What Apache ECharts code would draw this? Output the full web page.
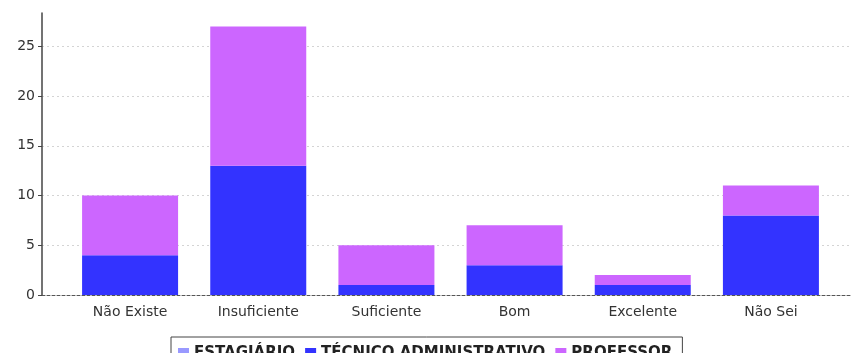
<!DOCTYPE html>
<html lang="pt">
  <head>
    <meta charset="UTF-8" />
    <title>avaliacao</title>
    <script src="https://cdn.jsdelivr.net/npm/echarts@6/dist/echarts.min.js"></script>
    <style>
      html, body { margin: 0; padding: 0; background: #fff; }
      #chart { width: 852px; height: 353px; }
    </style>
  </head>
  <body>
    <div id="chart"></div>
    <script>
      var categorias = ['Não Existe', 'Insuficiente', 'Suficiente', 'Bom', 'Excelente', 'Não Sei'];
      var estagiario = [0, 0, 0, 0, 0, 0];
      var tecnico = [4, 13, 1, 3, 1, 8];
      var professor = [6, 14, 4, 4, 1, 3];
      var yTicks = [0, 5, 10, 15, 20, 25];

      var chartColor = ['#9999ff', '#3333ff', '#cc66ff'];
      var fontFamily = 'DejaVu Sans';
      var yMax = 28.35;

      var chart = echarts.init(document.getElementById('chart'));

      var chartOption = {
        animation: false,
        color: chartColor,
        // grid 0: moldura (eixo y, linhas de grade, linha base)
        // grid 1: barras com margens de categoria
        grid: [
          { left: 42, right: 2, top: 13, bottom: 58, containLabel: false, outerBoundsMode: 'none' },
          { left: 66, right: 17, top: 13, bottom: 58, containLabel: false, outerBoundsMode: 'none' }
        ],
        legend: {
          left: 171,
          top: 337,
          icon: 'rect',
          itemWidth: 11,
          itemHeight: 11,
          itemGap: 10,
          padding: [9, 10, 8, 7],
          borderColor: '#444',
          borderWidth: 1,
          selectedMode: false,
          textStyle: {
            color: '#222',
            fontSize: 15,
            fontWeight: 'bold',
            fontFamily: fontFamily
          },
          data: ['ESTAGIÁRIO', 'TÉCNICO ADMINISTRATIVO', 'PROFESSOR']
        },
        xAxis: [
          {
            gridIndex: 0,
            type: 'value',
            min: 0,
            max: 1,
            splitLine: { show: false },
            axisTick: { show: false },
            axisLabel: { show: false },
            axisLine: {
              show: true,
              lineStyle: { color: '#555', type: [3, 2], width: 1 }
            }
          },
          {
            gridIndex: 1,
            type: 'category',
            data: categorias,
            axisLine: { show: false },
            axisTick: { show: false },
            axisLabel: {
              color: '#333',
              fontSize: 14,
              fontFamily: fontFamily,
              margin: 10
            }
          }
        ],
        yAxis: [
          {
            gridIndex: 0,
            type: 'value',
            min: 0,
            max: yMax,
            interval: 5,
            axisLine: {
              show: true,
              onZero: false,
              lineStyle: { color: '#444', width: 1.5 }
            },
            axisTick: {
              show: true,
              length: 4,
              customValues: yTicks,
              lineStyle: { color: '#444' }
            },
            axisLabel: {
              customValues: yTicks,
              color: '#333',
              fontSize: 14,
              fontFamily: fontFamily,
              margin: 7
            },
            splitLine: {
              show: true,
              lineStyle: { color: '#d4d4d4', type: [2, 3], width: 1 }
            }
          },
          {
            gridIndex: 1,
            type: 'value',
            min: 0,
            max: yMax,
            show: false
          }
        ],
        series: [
          {
            name: 'ESTAGIÁRIO',
            type: 'bar',
            stack: 'total',
            xAxisIndex: 1,
            yAxisIndex: 1,
            barWidth: 96,
            data: estagiario
          },
          {
            name: 'TÉCNICO ADMINISTRATIVO',
            type: 'bar',
            stack: 'total',
            xAxisIndex: 1,
            yAxisIndex: 1,
            barWidth: 96,
            data: tecnico
          },
          {
            name: 'PROFESSOR',
            type: 'bar',
            stack: 'total',
            xAxisIndex: 1,
            yAxisIndex: 1,
            barWidth: 96,
            data: professor
          }
        ]
      };

      chart.setOption(chartOption);
    </script>
  </body>
</html>
